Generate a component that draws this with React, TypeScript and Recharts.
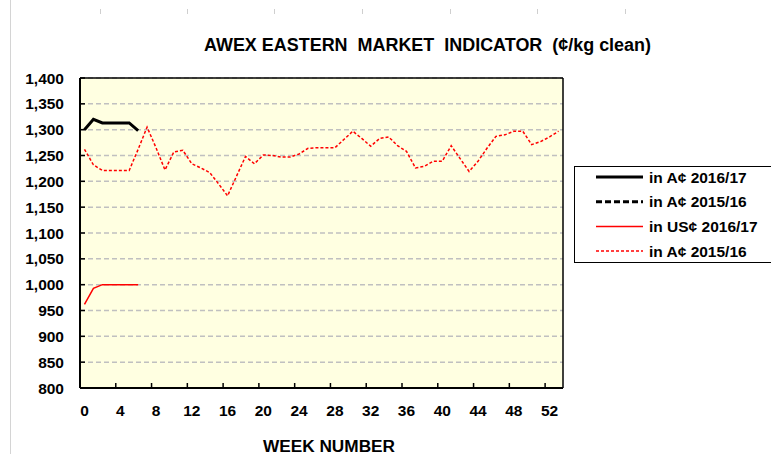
import React from 'react';
import { LineChart, Line, XAxis, YAxis, CartesianGrid, ReferenceLine } from 'recharts';

// Week categories
const weeks = [
  0, 1, 2, 3, 4, 5, 6, 7, 8, 9, 10, 11, 12, 13, 14, 15, 16, 17, 18, 19, 20, 21, 22, 23, 24, 25, 26,
  27, 28, 29, 30, 31, 32, 33, 34, 35, 36, 37, 38, 39, 40, 41, 42, 43, 44, 45, 46, 47, 48, 49, 50, 51,
  52, 53,
];

// Series values (cents/kg clean)
const audc2016_17 = [1300, 1320, 1313, 1313, 1313, 1313, 1298];
const audc2015_16Black: number[] = [];
const usc2016_17 = [962, 993, 1000, 1000, 1000, 1000, 1000];
const audc2015_16Red = [
  1262, 1232, 1221, 1221, 1221, 1221, 1262, 1305, 1265, 1222, 1257, 1260, 1234, 1226, 1217, 1195,
  1172, 1210, 1248, 1234, 1251, 1250, 1247, 1247, 1253, 1264, 1265, 1265, 1265, 1281, 1297, 1283,
  1268, 1283, 1286, 1269, 1258, 1226, 1229, 1239, 1239, 1269, 1244, 1219, 1239, 1264, 1287, 1290,
  1297, 1297, 1271, 1277, 1286, 1297,
];

// Axis ticks
const xLabelTicks = [0, 4, 8, 12, 16, 20, 24, 28, 32, 36, 40, 44, 48, 52];
const xMinorTicks = [3.5, 7.5, 11.5, 15.5, 19.5, 23.5, 27.5, 31.5, 35.5, 39.5, 43.5, 47.5, 51.5];
const yTicks = [800, 850, 900, 950, 1000, 1050, 1100, 1150, 1200, 1250, 1300, 1350, 1400];

const title = 'AWEX EASTERN  MARKET  INDICATOR  (¢/kg clean)';
const xTitle = 'WEEK NUMBER';

const series = [
  { key: 'a1617', label: 'in A¢ 2016/17', values: audc2016_17, color: '#000000', width: 3, dash: undefined as string | undefined },
  { key: 'a1516b', label: 'in A¢ 2015/16', values: audc2015_16Black, color: '#000000', width: 3, dash: '6 3' },
  { key: 'u1617', label: 'in US¢ 2016/17', values: usc2016_17, color: '#FF0000', width: 1.5, dash: undefined },
  { key: 'a1516r', label: 'in A¢ 2015/16', values: audc2015_16Red, color: '#FF0000', width: 1.5, dash: '3 2' },
];

const data = weeks.map((w, i) => {
  const row: Record<string, number | null> = { week: w };
  series.forEach((s) => {
    row[s.key] = i < s.values.length ? s.values[i] : null;
  });
  return row;
});

const xTicks = [...xLabelTicks, ...xMinorTicks].sort((a, b) => a - b);
const FONT = '"Liberation Sans", Arial, Helvetica, sans-serif';

const XTick = (props: any) => {
  const { x, y, payload } = props;
  const v = payload.value as number;
  if (xLabelTicks.includes(v)) {
    return (
      <text x={x} y={y + 28} textAnchor="middle" fontFamily={FONT} fontWeight="bold" fontSize={15.5} fill="#000">
        {v}
      </text>
    );
  }
  return <line x1={x} x2={x} y1={y} y2={y - 5} stroke="#000" strokeWidth={1.5} />;
};

const colMarks = [100, 187, 274, 362, 450, 537, 625];

export default function App() {
  return (
    <div style={{ position: 'absolute', left: 0, top: 0, width: 771, height: 454, background: '#fff', overflow: 'hidden' }}>
      <div style={{ position: 'absolute', left: 10, top: 0, width: 1, height: 454, background: '#d4d4d4' }} />
      {colMarks.map((m) => (
        <div key={m} style={{ position: 'absolute', left: m, top: 9, width: 1, height: 5, background: '#cfcfcf' }} />
      ))}
      <div style={{ position: 'absolute', left: 0, top: 0 }}>
        <LineChart width={771} height={454} data={data} margin={{ top: 78, right: 208, bottom: 36, left: 0 }}>
          <CartesianGrid
            horizontal
            vertical={false}
            stroke="#c0c0c0"
            strokeWidth={1.5}
            strokeDasharray="5 3"
            fill="#FFFFE1"
          />
          <XAxis
            dataKey="week"
            type="number"
            domain={[-0.5, 53.5]}
            ticks={xTicks}
            interval={0}
            height={30}
            tickLine={false}
            tickSize={0}
            tickMargin={0}
            tick={<XTick />}
            axisLine={{ stroke: '#000', strokeWidth: 2 }}
            allowDataOverflow
          />
          <YAxis
            type="number"
            domain={[800, 1400]}
            ticks={yTicks}
            interval={0}
            width={80}
            tickSize={-5}
            tickMargin={21}
            tickLine={{ stroke: '#000', strokeWidth: 1.5 }}
            axisLine={{ stroke: '#000', strokeWidth: 2 }}
            tickFormatter={(v: number) => v.toLocaleString('en-US')}
            tick={{ fill: '#000', fontSize: 15.5, fontWeight: 'bold', fontFamily: FONT }}
            allowDataOverflow
          />
          <ReferenceLine y={1400} stroke="#000" strokeWidth={1.5} />
          <ReferenceLine x={53.5} stroke="#000" strokeWidth={1.5} />
          {series.map((s) => (
            <Line
              key={s.key}
              dataKey={s.key}
              type="linear"
              stroke={s.color}
              strokeWidth={s.width}
              strokeDasharray={s.dash}
              dot={false}
              activeDot={false}
              connectNulls={false}
              isAnimationActive={false}
            />
          ))}
        </LineChart>
      </div>
      <svg width={771} height={454} style={{ position: 'absolute', left: 0, top: 0, pointerEvents: 'none' }}>
        <text
          x={204}
          y={51}
          fontFamily={FONT}
          fontWeight="bold"
          fontSize={18}
          textLength={447}
          lengthAdjust="spacingAndGlyphs"
          style={{ whiteSpace: 'pre' }}
          fill="#000"
        >
          {title}
        </text>
        <text
          x={263}
          y={452}
          fontFamily={FONT}
          fontWeight="bold"
          fontSize={16}
          textLength={132}
          lengthAdjust="spacingAndGlyphs"
          fill="#000"
        >
          {xTitle}
        </text>
        <rect x={574.5} y={166.5} width={210} height={96} fill="#fff" stroke="#000" strokeWidth={1} />
        {series.map((s, i) => {
          const cy = 177 + i * 24.7;
          return (
            <g key={s.key + i}>
              <line x1={596} x2={643} y1={cy} y2={cy} stroke={s.color} strokeWidth={s.width} strokeDasharray={s.dash} />
              <text x={649} y={cy + 5.5} fontFamily={FONT} fontWeight="bold" fontSize={15.5} fill="#000">
                {s.label}
              </text>
            </g>
          );
        })}
      </svg>
    </div>
  );
}
